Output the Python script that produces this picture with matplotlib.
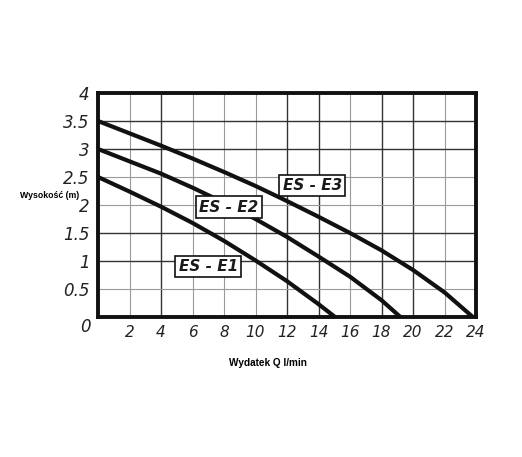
import matplotlib.pyplot as plt
import numpy as np

# 曲线数据 (Q l/min, H m)
e1_q = [0, 2, 4, 6, 8, 10, 12, 14, 15.05]
e1_h = [2.5, 2.24, 1.97, 1.68, 1.36, 1.01, 0.64, 0.23, 0.0]
e2_q = [0, 2, 4, 6, 8, 10, 12, 14, 16, 18, 19.2]
e2_h = [3.0, 2.78, 2.56, 2.31, 2.04, 1.75, 1.43, 1.08, 0.72, 0.3, 0.0]
e3_q = [0, 2, 4, 6, 8, 10, 12, 14, 16, 18, 20, 22, 23.8]
e3_h = [3.5, 3.28, 3.06, 2.83, 2.59, 2.34, 2.07, 1.79, 1.5, 1.19, 0.84, 0.44, 0.0]

labels = ['ES - E1', 'ES - E2', 'ES - E3']
label_pos = [(7.0, 0.9), (8.3, 1.96), (13.6, 2.35)]

xticks = [2, 4, 6, 8, 10, 12, 14, 16, 18, 20, 22, 24]
yticks = [0.5, 1, 1.5, 2, 2.5, 3, 3.5, 4]
ytick_labels = ['0.5', '1', '1.5', '2', '2.5', '3', '3.5', '4']

fig = plt.figure(figsize=(5.22, 4.57), dpi=100)
ax = fig.add_axes([98 / 522, 1 - 317 / 457, 378 / 522, 224 / 457])

# 网格（扫描图里有的线深，有的线浅）
dark_x = [4, 12, 14, 18, 20]
dark_y = [1, 1.5, 3, 3.5]
for x in np.arange(2, 24, 2):
    d = x in dark_x
    ax.axvline(x, color='#333333' if d else '#9a9a9a', lw=1.0 if d else 0.8, zorder=1)
for y in np.arange(0.5, 4, 0.5):
    d = y in dark_y
    ax.axhline(y, color='#333333' if d else '#9a9a9a', lw=1.0 if d else 0.8, zorder=1)

for q, h in [(e1_q, e1_h), (e2_q, e2_h), (e3_q, e3_h)]:
    ax.plot(q, h, color='#111111', lw=3.0, solid_joinstyle='round', zorder=3)

for t, (x, y) in zip(labels, label_pos):
    ax.text(x, y, t, fontsize=11, fontweight='bold', style='italic', ha='center', va='center',
            color='#1a1a1a', zorder=5,
            bbox=dict(boxstyle='square,pad=0.22', fc='white', ec='#111111', lw=1.2))

ax.set_xlim(0, 24)
ax.set_ylim(0, 4)
ax.set_xticks(xticks)
ax.set_yticks(yticks)
ax.set_xticklabels([str(v) for v in xticks], style='italic', fontsize=11, color='#222222')
ax.set_yticklabels(ytick_labels, style='italic', fontsize=12, color='#222222')
ax.tick_params(length=0, pad=6)
ax.text(-0.45, -0.02, '0', ha='right', va='top', style='italic', fontsize=12, color='#222222')
for s in ax.spines.values():
    s.set_linewidth(2.8)
    s.set_color('#111111')
    s.set_zorder(6)

fig.text(20 / 522, 1 - 196 / 457, 'Wysokość (m)', fontsize=6.3, fontweight='bold',
         family='Liberation Sans', va='center', ha='left')
fig.text(268 / 522, 1 - 363 / 457, 'Wydatek Q l/min', fontsize=7.2, fontweight='bold',
         family='Liberation Sans', va='center', ha='center')

plt.savefig('out.png', dpi=100)
